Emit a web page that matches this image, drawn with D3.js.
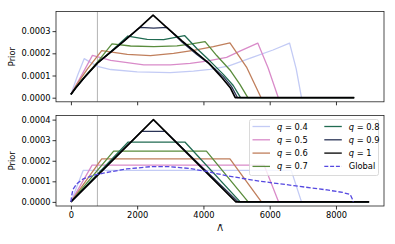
<!DOCTYPE html>
<html>
<head>
<meta charset="utf-8">
<script src="https://cdn.jsdelivr.net/npm/d3@7"></script>
<style>
  body { margin: 0; background: #fff; }
  text { font-family: "DejaVu Sans", sans-serif; fill: #000; }
</style>
</head>
<body>
<div id="vis"></div>
<script>
const FRAME_WIDTH = 395;
const FRAME_HEIGHT = 244;

// data: [Lambda, prior]
const xTicks = [0, 2000, 4000, 6000, 8000];
const topYTicks = [0, 0.0001, 0.0002, 0.0003];
const bottomYTicks = [0, 0.0001, 0.0002, 0.0003, 0.0004];
const qLabels = ["0.4", "0.5", "0.6", "0.7", "0.8", "0.9", "1"];
const markerLambda = 800;

// top panel
const top04 = [[0,1.5e-5],[200,1.0e-4],[400,1.76e-4],[800,1.41e-4],[1200,1.27e-4],[2000,1.16e-4],[3000,1.13e-4],[3700,1.2e-4],[4200,1.28e-4],[4750,1.42e-4],[5500,1.83e-4],[6100,2.15e-4],[6600,2.46e-4],[6800,1.3e-4],[6960,0],[8550,0]];
const top05 = [[0,1.5e-5],[330,1.03e-4],[650,1.91e-4],[1200,1.68e-4],[2200,1.48e-4],[3000,1.48e-4],[3600,1.55e-4],[4100,1.65e-4],[4700,1.82e-4],[5100,2.1e-4],[5640,2.46e-4],[5950,1.35e-4],[6260,0],[8550,0]];
const top06 = [[0,1.5e-5],[200,6.5e-5],[500,1.3e-4],[930,2.12e-4],[1700,1.95e-4],[2400,1.9e-4],[3100,2.0e-4],[3700,2.13e-4],[4300,2.3e-4],[4800,2.47e-4],[5300,1.38e-4],[5740,0],[8550,0]];
const top07 = [[0,1.5e-5],[150,4.7e-5],[400,9.3e-5],[800,1.6e-4],[1240,2.43e-4],[1800,2.33e-4],[2500,2.3e-4],[3200,2.34e-4],[3600,2.41e-4],[4050,2.53e-4],[4400,1.9e-4],[4800,1.25e-4],[5100,6e-5],[5340,0],[8550,0]];
const top08 = [[0,1.5e-5],[150,4.6e-5],[400,9.1e-5],[800,1.57e-4],[1200,2.07e-4],[1720,2.78e-4],[2300,2.63e-4],[2800,2.62e-4],[3430,2.8e-4],[3800,2.22e-4],[4200,1.65e-4],[4600,1.05e-4],[4900,5.5e-5],[5120,0],[8550,0]];
const top09 = [[0,1.5e-5],[150,4.5e-5],[400,9e-5],[800,1.56e-4],[1200,2.05e-4],[1600,2.55e-4],[2090,3.17e-4],[2500,3.14e-4],[2900,3.17e-4],[3360,2.5e-4],[3800,1.95e-4],[4200,1.5e-4],[4600,9.5e-5],[4850,5e-5],[5030,0],[8550,0]];
const top10 = [[0,1.5e-5],[150,4.5e-5],[400,9e-5],[800,1.56e-4],[1200,2.05e-4],[1600,2.55e-4],[2086,3.18e-4],[2480,3.72e-4],[2880,3.18e-4],[3360,2.55e-4],[3760,2.05e-4],[4160,1.56e-4],[4560,9e-5],[4810,4.5e-5],[4960,0],[8550,0]];

// bottom panel
const bot04 = [[0,0],[370,1.53e-4],[6650,1.53e-4],[6960,0],[9000,0]];
const bot05 = [[0,0],[640,1.79e-4],[5830,1.79e-4],[6270,0],[9000,0]];
const bot06 = [[0,0],[930,2.09e-4],[4800,2.09e-4],[5750,0],[9000,0]];
const bot07 = [[0,0],[1290,2.47e-4],[4090,2.47e-4],[5350,0],[9000,0]];
const bot08 = [[0,0],[1730,2.91e-4],[3440,2.91e-4],[5110,0],[9000,0]];
const bot09 = [[0,0],[2130,3.43e-4],[2840,3.43e-4],[5050,0],[9000,0]];
const bot10 = [[0,0],[2490,4.0e-4],[4980,0],[9000,0]];
const globalPrior = [[0,0],[30,3.5e-5],[60,6e-5],[175,8.8e-5],[375,1.12e-4],[680,1.29e-4],[980,1.4e-4],[1680,1.6e-4],[2400,1.71e-4],[3000,1.71e-4],[3600,1.62e-4],[4100,1.48e-4],[4730,1.26e-4],[5730,1.0e-4],[6730,7.9e-5],[7730,5.8e-5],[8200,4.6e-5],[8430,3.6e-5],[8490,1.5e-5],[8520,0]];

const topSeries = [top04, top05, top06, top07, top08, top09, top10];
const bottomSeries = [bot04, bot05, bot06, bot07, bot08, bot09, bot10];

// styles
const Q_COLORS = ["#c3cbf5", "#d98bc9", "#c07f5c", "#5a8c3d", "#216b52", "#2b3457", "#000000"];
const GLOBAL_COLOR = "#5548e0";
const FONT = 8.3;

const svg = d3.select("#vis")
  .append("svg")
    .attr("width", FRAME_WIDTH)
    .attr("height", FRAME_HEIGHT);

const X_SCALE = d3.scaleLinear().domain([-450, 9450]).range([56, 384]);

const panels = [
  {series: topSeries, y: d3.scaleLinear().domain([-0.0000185, 0.0003885]).range([101.8, 11.5]),
   ticks: topYTicks, xLabels: false},
  {series: bottomSeries, y: d3.scaleLinear().domain([-0.00002, 0.00042]).range([206, 115.5]),
   ticks: bottomYTicks, xLabels: true}
];

panels.forEach((p, pi) => {
  const [y1, y0] = p.y.range();
  const g = svg.append("g");

  // clip to the axes box
  const clipId = "clip" + pi;
  g.append("clipPath").attr("id", clipId)
    .append("rect")
      .attr("x", 56).attr("y", y0)
      .attr("width", 328).attr("height", y1 - y0);

  const plot = g.append("g").attr("clip-path", "url(#" + clipId + ")");

  // vertical marker
  plot.append("line")
    .attr("x1", X_SCALE(markerLambda)).attr("x2", X_SCALE(markerLambda))
    .attr("y1", y0).attr("y2", y1)
    .attr("stroke", "#b4b4b4")
    .attr("stroke-width", 1);

  const line = d3.line()
    .x((d) => X_SCALE(d[0]))
    .y((d) => p.y(d[1]));

  p.series.forEach((s, i) => {
    plot.append("path")
      .datum(s)
      .attr("d", line)
      .attr("fill", "none")
      .attr("stroke", Q_COLORS[i])
      .attr("stroke-width", i === 6 ? 1.7 : 1.3)
      .attr("stroke-linejoin", "round");
  });

  if (pi === 1) {
    plot.append("path")
      .datum(globalPrior)
      .attr("d", line)
      .attr("fill", "none")
      .attr("stroke", GLOBAL_COLOR)
      .attr("stroke-width", 1.3)
      .attr("stroke-dasharray", "4.5,2");
  }

  // y axis
  const yAxis = g.append("g")
    .attr("transform", "translate(56,0)")
    .call(d3.axisLeft(p.y).tickValues(p.ticks).tickFormat(d3.format(".4f"))
      .tickSize(3.5).tickPadding(2));
  yAxis.select(".domain").remove();
  yAxis.selectAll("line").attr("stroke", "#000").attr("stroke-width", 0.8);
  yAxis.selectAll("text").attr("font-size", FONT).attr("font-family", "DejaVu Sans");

  // x axis
  const xAxis = g.append("g")
    .attr("transform", "translate(0," + y1 + ")")
    .call(d3.axisBottom(X_SCALE).tickValues(xTicks)
      .tickFormat(p.xLabels ? d3.format("d") : "")
      .tickSize(3.5).tickPadding(2.5));
  xAxis.select(".domain").remove();
  xAxis.selectAll("line").attr("stroke", "#000").attr("stroke-width", 0.8);
  xAxis.selectAll("text").attr("font-size", FONT).attr("font-family", "DejaVu Sans");

  // frame
  g.append("rect")
    .attr("x", 56).attr("y", y0)
    .attr("width", 328).attr("height", y1 - y0)
    .attr("fill", "none")
    .attr("stroke", "#222")
    .attr("stroke-width", 0.8);

  // y label
  g.append("text")
    .attr("transform", "translate(15," + ((y0 + y1) / 2) + ") rotate(-90)")
    .attr("text-anchor", "middle")
    .attr("font-size", FONT)
    .text("Prior");
});

// x label
svg.append("text")
  .attr("x", 220).attr("y", 230.5)
  .attr("text-anchor", "middle")
  .attr("font-size", FONT)
  .text("\u039B\u0303");

// legend
const legend = svg.append("g");
legend.append("rect")
  .attr("x", 249.5).attr("y", 119.5)
  .attr("width", 129).attr("height", 56)
  .attr("rx", 2)
  .attr("fill", "#fff").attr("fill-opacity", 0.8)
  .attr("stroke", "#d0d0d0").attr("stroke-width", 0.8);

const legendItems = qLabels.map((q, i) => ({label: q, color: Q_COLORS[i], dash: null}))
  .concat([{label: "Global", color: GLOBAL_COLOR, dash: "4,1.8"}]);

legendItems.forEach((d, i) => {
  const col = Math.floor(i / 4);
  const row = i % 4;
  const lx = col === 0 ? 252.5 : 324.3;
  const ly = 126.5 + row * 13.3;
  legend.append("line")
    .attr("x1", lx).attr("x2", lx + 17.5)
    .attr("y1", ly).attr("y2", ly)
    .attr("stroke", d.color)
    .attr("stroke-width", 1.3)
    .attr("stroke-dasharray", d.dash);
  const t = legend.append("text")
    .attr("x", lx + 24.5).attr("y", ly + 3)
    .attr("font-size", FONT);
  if (d.label === "Global") {
    t.text("Global");
  } else {
    t.append("tspan").attr("font-style", "italic").text("q");
    t.append("tspan").text(" = " + d.label);
  }
});
</script>
</body>
</html>
